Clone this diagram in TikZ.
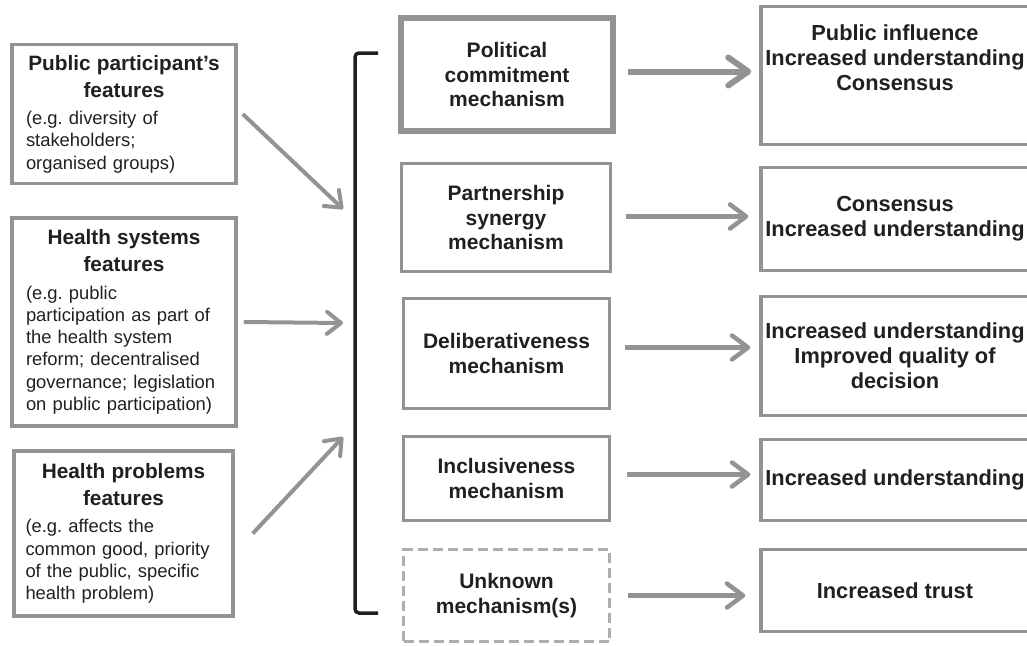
\documentclass[tikz,border=0pt]{standalone}
\usepackage{fontspec}
\setmainfont{Liberation Sans}
\usetikzlibrary{arrows.meta, positioning}

\definecolor{boxgray}{HTML}{939393}
\definecolor{dashgray}{HTML}{AEAEAE}
\definecolor{inkblack}{HTML}{231F20}

\tikzset{
  featbox/.style={draw=boxgray, line width=3.5pt, text width=196pt, align=left, inner xsep=11pt, text=inkblack, font=\fontsize{18.4}{22.3}\selectfont\frenchspacing},
  mechbox/.style={draw=boxgray, line width=3.5pt, align=center, inner sep=0pt, text=inkblack, font=\fontsize{21}{24.5}\selectfont\bfseries},
  outbox/.style={draw=boxgray, line width=3.5pt, align=center, inner sep=0pt, minimum width=268pt, text=inkblack, font=\fontsize{21.8}{25}\selectfont\bfseries},
  grayarrow/.style={draw=boxgray, line width=4pt, -{Straight Barb[round, length=14pt, width=22pt]}},
}
\newcommand{\feattitle}[1]{{\centering\fontsize{20.8}{27}\selectfont\bfseries #1\par}\vspace{5pt}}

\begin{document}
\begin{tikzpicture}[x=1pt, y=-1pt]
  \useasboundingbox (0,0) rectangle (1027,645);

  % Draw the feature boxes on the left
  \node[featbox, minimum width=224pt, minimum height=139pt] (featPublic) at (124,114)
    {\feattitle{Public participant's\\features}(e.g. diversity of\\stakeholders;\\organised groups)};
  \node[featbox, minimum width=224pt, minimum height=208pt] (featSystem) at (124,322)
    {\feattitle{Health systems\\features}(e.g. public\\participation as part of\\the health system\\reform; decentralised\\governance; legislation\\on public participation)};
  \node[featbox, minimum width=219pt, minimum height=165pt] (featProblem) at (123.5,533.5)
    {\feattitle{Health problems\\features}(e.g. affects the\\common good, priority\\of the public, specific\\health problem)};

  % Draw the bracket round the mechanisms
  \coordinate (brTop) at (378,53);
  \coordinate (brBot) at (378,613);
  \draw[inkblack, line width=3.5pt, rounded corners=4pt] (brTop) -- (355,53) -- (355,613) -- (brBot);

  % Draw the arrows into the bracket
  \coordinate (inA) at (343,209);
  \coordinate (inB) at (343,323);
  \coordinate (inC) at (343,437);
  \draw[grayarrow] ([xshift=5pt]featPublic.east) -- (inA);
  \draw[grayarrow] ([xshift=6pt]featSystem.east) -- (inB);
  \draw[grayarrow] ([xshift=18pt]featProblem.east) -- (inC);

  % Draw the mechanism boxes
  \node[mechbox, line width=6.5pt, minimum width=212pt, minimum height=113pt] (mechPolitical) at (507,74.5)
    {Political\\commitment\\mechanism};
  \node[mechbox, minimum width=209pt, minimum height=108pt] (mechPartner) at (506,217.5)
    {Partnership\\synergy\\mechanism};
  \node[mechbox, minimum width=206pt, minimum height=110pt] (mechDelib) at (506.5,353.5)
    {Deliberativeness\\mechanism};
  \node[mechbox, minimum width=206pt, minimum height=84pt] (mechIncl) at (506.5,478.5)
    {Inclusiveness\\mechanism};
  \node[mechbox, draw=dashgray, line width=3pt, dash pattern=on 10pt off 5pt, minimum width=206pt, minimum height=92pt] (mechUnknown) at (506.5,595.5)
    {Unknown\\mechanism(s)};

  % Draw the outcome boxes
  \node[outbox, minimum height=138pt] (outPolitical) at (895,75.5)
    {Public influence\\Increased understanding\\Consensus\rule[-36pt]{0pt}{0pt}};
  \node[outbox, minimum height=103pt] (outPartner) at (895,219)
    {Consensus\\Increased understanding};
  \node[outbox, minimum height=119pt] (outDelib) at (895,356)
    {Increased understanding\\Improved quality of\\decision};
  \node[outbox, minimum height=81pt] (outIncl) at (895,480)
    {Increased understanding};
  \node[outbox, minimum height=82pt] (outUnknown) at (895,590.5)
    {Increased trust};

  % Draw the arrows from mechanisms to outcomes
  \draw[grayarrow, line width=6pt, -{Straight Barb[round, length=20pt, width=28pt]}, shorten <=12pt, shorten >=8pt] ([yshift=3pt]mechPolitical.east) -- ([yshift=3pt]mechPolitical.east -| outPolitical.west);
  \draw[grayarrow, line width=4.5pt, -{Straight Barb[round, length=16pt, width=24pt]}, shorten <=14pt, shorten >=11pt] ([yshift=1pt]mechPartner.east) -- ([yshift=1pt]mechPartner.east -| outPartner.west);
  \draw[grayarrow, line width=4.5pt, -{Straight Barb[round, length=16pt, width=24pt]}, shorten <=14pt, shorten >=9pt] ([yshift=6pt]mechDelib.east) -- ([yshift=6pt]mechDelib.east -| outDelib.west);
  \draw[grayarrow, line width=4.5pt, -{Straight Barb[round, length=16pt, width=24pt]}, shorten <=16pt, shorten >=9pt] ([yshift=4pt]mechIncl.east) -- ([yshift=4pt]mechIncl.east -| outIncl.west);
  \draw[grayarrow, line width=4.5pt, -{Straight Barb[round, length=16pt, width=24pt]}, shorten <=17pt, shorten >=14pt] (mechUnknown.east) -- (mechUnknown.east -| outUnknown.west);
\end{tikzpicture}
\end{document}
